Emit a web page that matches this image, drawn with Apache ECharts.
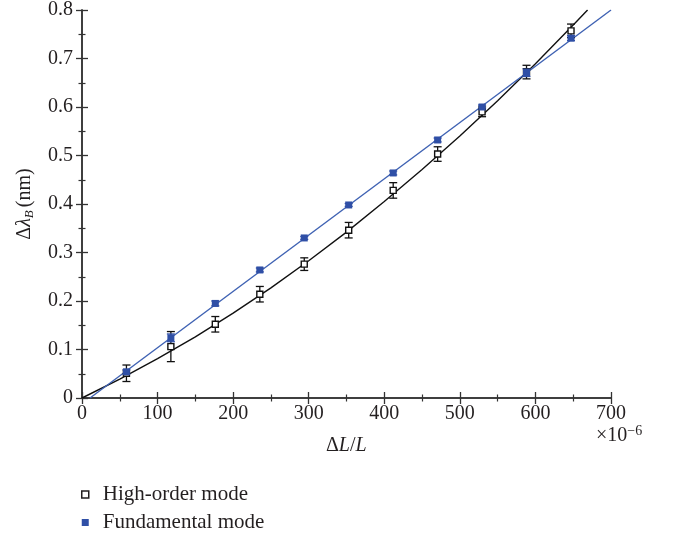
<!DOCTYPE html>
<html>
<head>
<meta charset="utf-8">
<script src="https://cdn.jsdelivr.net/npm/echarts@6/dist/echarts.min.js"></script>
<style>
  html, body { margin: 0; padding: 0; background: #fff; }
  #chart { width: 675px; height: 537px; }
</style>
</head>
<body>
<div id="chart"></div>
<script>
// Strain ΔL/L (×10^-6) applied at each step
const strain = [58.8, 117.6, 176.4, 235.3, 294.1, 352.9, 411.8, 470.6, 529.4, 588.2, 647.1];

// Bragg wavelength shift (nm) and its uncertainty, high-order mode
const highOrder    = [0.051, 0.106, 0.152, 0.214, 0.276, 0.346, 0.428, 0.503, 0.590, 0.672, 0.757];
const highOrderErr = [0.017, 0.031, 0.016, 0.016, 0.013, 0.016, 0.016, 0.015, 0.010, 0.014, 0.014];

// Bragg wavelength shift (nm) and its uncertainty, fundamental mode
const fundamental    = [0.054, 0.124, 0.195, 0.264, 0.330, 0.398, 0.464, 0.532, 0.600, 0.671, 0.742];
const fundamentalErr = [0.004, 0.008, 0.005, 0.004, 0.003, 0.003, 0.004, 0.004, 0.004, 0.008, 0.005];

// Fitted curves
const highFitX = [0, 50, 100, 150, 200, 250, 300, 350, 400, 450, 500, 550, 600, 650, 669];
const highFitY = [0, 0.039, 0.081, 0.126, 0.175, 0.227, 0.283, 0.342, 0.405, 0.471, 0.540, 0.613, 0.689, 0.769, 0.8];
const fundFitX = [10.6, 700];
const fundFitY = [0, 0.8];

// Axis ticks
const xTicks = [0, 100, 200, 300, 400, 500, 600, 700];
const yTicks = [0, 0.1, 0.2, 0.3, 0.4, 0.5, 0.6, 0.7, 0.8];

const BLUE = '#2f4fa6';
const LINE_BLUE = '#3f62b3';
const INK = '#231f20';
const FONT = '"Liberation Serif", "DejaVu Serif", serif';
const FS = 20;

const pairs = (xs, ys) => xs.map((x, i) => [x, ys[i]]);
const withErr = (xs, ys, es) => xs.map((x, i) => [x, ys[i], es[i]]);

function errorBar(color) {
  return function (params, api) {
    const x = api.value(0), y = api.value(1), e = api.value(2);
    const top = api.coord([x, y + e]);
    const bot = api.coord([x, y - e]);
    const cap = 4;
    const style = { stroke: color, lineWidth: 1.3 };
    return {
      type: 'group',
      children: [
        { type: 'line', shape: { x1: top[0], y1: top[1], x2: bot[0], y2: bot[1] }, style },
        { type: 'line', shape: { x1: top[0] - cap, y1: top[1], x2: top[0] + cap, y2: top[1] }, style },
        { type: 'line', shape: { x1: bot[0] - cap, y1: bot[1], x2: bot[0] + cap, y2: bot[1] }, style }
      ]
    };
  };
}

// Ticks point into the plot frame (negative length flips them inward)
const axisCommon = {
  type: 'value',
  axisLine: { show: true, lineStyle: { color: '#333', width: 1.5 } },
  axisTick: { show: true, inside: false, length: -6, lineStyle: { color: '#333', width: 1.3 } },
  minorTick: { show: true, splitNumber: 2, length: -3.5, lineStyle: { color: '#333', width: 1.2 } },
  splitLine: { show: false }
};

const chart = echarts.init(document.getElementById('chart'), null, { renderer: 'canvas' });
chart.setOption({
  animation: false,
  backgroundColor: '#fff',
  textStyle: { fontFamily: FONT, color: INK },
  grid: { left: 82, right: 64, top: 9, bottom: 139, containLabel: false },
  xAxis: [
    Object.assign({}, axisCommon, {
      position: 'bottom', min: xTicks[0], max: xTicks[xTicks.length - 1], interval: 100,
      axisLabel: { show: true, fontFamily: FONT, fontSize: FS, color: INK, margin: 6 }
    }),
    Object.assign({}, axisCommon, {
      position: 'top', min: xTicks[0], max: xTicks[xTicks.length - 1], interval: 100,
      axisLabel: { show: false }
    })
  ],
  yAxis: [
    Object.assign({}, axisCommon, {
      position: 'left', min: yTicks[0], max: yTicks[yTicks.length - 1], interval: 0.1,
      axisLabel: { show: true, fontFamily: FONT, fontSize: FS, color: INK, margin: 9,
        formatter: v => (Math.round(v * 10) / 10).toString() },
      name: '{d|Δ}{l|λ}{s|B} {d|(nm)}',
      nameLocation: 'middle', nameGap: 46, nameRotate: 90,
      nameTextStyle: {
        rich: {
          d: { fontFamily: FONT, fontSize: FS, color: INK },
          l: { fontFamily: FONT, fontSize: FS, color: INK, fontStyle: 'italic' },
          s: { fontFamily: FONT, fontSize: 13, color: INK, fontStyle: 'italic', verticalAlign: 'bottom', padding: [9, 0, 0, 0] }
        }
      }
    }),
    Object.assign({}, axisCommon, {
      position: 'right', min: yTicks[0], max: yTicks[yTicks.length - 1], interval: 0.1,
      axisLabel: { show: false }
    })
  ],
  legend: {
    orient: 'vertical', left: 81, top: 484, itemGap: 7, padding: 0,
    itemWidth: 7, itemHeight: 7,
    textStyle: { fontFamily: FONT, fontSize: 21, lineHeight: 20, color: INK, padding: [0, 0, 0, 9] },
    data: [
      { name: 'High-order mode', icon: 'rect', itemStyle: { color: '#fff', borderColor: INK, borderWidth: 1.5 } },
      { name: 'Fundamental mode', icon: 'rect', itemStyle: { color: BLUE, borderWidth: 0 } }
    ]
  },
  graphic: [
    { type: 'text', left: 326, top: 436, style: { text: '{d|Δ}{i|L}{d|/}{i|L}',
      rich: {
        d: { fontFamily: FONT, fontSize: FS, fill: INK },
        i: { fontFamily: FONT, fontSize: FS, fill: INK, fontStyle: 'italic' }
      } } },
    { type: 'text', left: 596, top: 424, style: { text: '{d|×10}{s|−6}',
      rich: {
        d: { fontFamily: FONT, fontSize: FS, fill: INK },
        s: { fontFamily: FONT, fontSize: 14, fill: INK, verticalAlign: 'top', padding: [0, 0, 9, 0] }
      } } }
  ],
  series: [
    {
      name: 'High-order fit', type: 'line', data: pairs(highFitX, highFitY),
      smooth: false, showSymbol: false, clip: true,
      lineStyle: { color: '#111', width: 1.4 }, z: 2, silent: true
    },
    {
      name: 'Fundamental fit', type: 'line', data: pairs(fundFitX, fundFitY),
      showSymbol: false, clip: true,
      lineStyle: { color: LINE_BLUE, width: 1.4 }, z: 2, silent: true
    },
    {
      name: 'High-order error', type: 'custom', renderItem: errorBar('#111'),
      data: withErr(strain, highOrder, highOrderErr), z: 3, silent: true
    },
    {
      name: 'Fundamental error', type: 'custom', renderItem: errorBar(BLUE),
      data: withErr(strain, fundamental, fundamentalErr), z: 3, silent: true
    },
    {
      name: 'High-order mode', type: 'scatter', data: pairs(strain, highOrder),
      symbol: 'rect', symbolSize: 6,
      itemStyle: { color: '#fff', borderColor: '#111', borderWidth: 1.4, opacity: 1 }, z: 4
    },
    {
      name: 'Fundamental mode', type: 'scatter', data: pairs(strain, fundamental),
      symbol: 'rect', symbolSize: 7,
      itemStyle: { color: BLUE, opacity: 1 }, z: 5
    }
  ]
});
</script>
</body>
</html>
